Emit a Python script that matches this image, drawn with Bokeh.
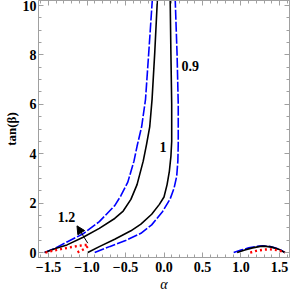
import math
from bokeh.plotting import figure
from bokeh.models import Range1d, FixedTicker, LinearAxis, Label, Arrow, NormalHead, CustomJSTickFormatter
from bokeh.embed import file_html
from bokeh.resources import INLINE

# ---- data (alpha, tan beta) ----
black_left_a = [-1.55, -1.40, -1.26, -1.05, -0.84, -0.64, -0.53, -0.43, -0.35, -0.27, -0.226, -0.185, -0.155, -0.12, -0.085]
black_left_t = [0.0, 0.17, 0.31, 0.62, 0.98, 1.38, 1.68, 2.15, 2.75, 3.7, 4.39, 5.1, 6.2, 8.1, 10.3]

blue_left_a = [-1.55, -1.40, -1.26, -1.05, -0.84, -0.64, -0.56, -0.47, -0.39, -0.35, -0.29, -0.24, -0.2, -0.15]
blue_left_t = [0.0, 0.2, 0.43, 0.76, 1.25, 1.9, 2.3, 2.85, 3.7, 4.3, 5.1, 6.2, 8.0, 10.3]

black_right_a = [-0.99, -0.84, -0.64, -0.43, -0.30, -0.16, -0.06, 0.0, 0.04, 0.07, 0.09, 0.10, 0.10, 0.09, 0.08]
black_right_t = [0.0, 0.24, 0.54, 0.88, 1.15, 1.55, 1.95, 2.25, 2.75, 3.3, 3.9, 4.5, 6.0, 8.0, 10.3]

blue_right_a = [-0.90, -0.70, -0.49, -0.30, -0.16, -0.02, 0.08, 0.13, 0.165, 0.18, 0.185, 0.185, 0.17, 0.145]
blue_right_t = [0.0, 0.25, 0.5, 0.78, 1.12, 1.65, 2.17, 2.6, 3.09, 3.7, 4.4, 6.0, 8.0, 10.3]

blue_bump_a = [0.905, 1.0, 1.1, 1.2, 1.28, 1.37, 1.45, 1.52, 1.57]
blue_bump_t = [0.0, 0.1, 0.19, 0.25, 0.27, 0.25, 0.18, 0.1, 0.0]

black_bump_a = [0.95, 1.05, 1.15, 1.25, 1.30, 1.40, 1.50, 1.57]
black_bump_t = [0.0, 0.1, 0.19, 0.25, 0.26, 0.22, 0.12, 0.0]

red_bump_a = [1.12, 1.20, 1.30, 1.38, 1.46, 1.53, 1.57]
red_bump_t = [0.0, 0.07, 0.12, 0.13, 0.10, 0.05, 0.0]

red_left_a = [-1.54, -1.45, -1.34, -1.22, -1.13, -1.05, -1.00, -0.98, -1.02, -1.07, -1.13]
red_left_t = [0.0, 0.07, 0.14, 0.21, 0.26, 0.30, 0.31, 0.27, 0.17, 0.09, 0.0]

x_ticks = [-1.5, -1.0, -0.5, 0.0, 0.5, 1.0, 1.5]
y_ticks = [0, 2, 4, 6, 8, 10]
x_minor = [round(-1.6 + 0.1 * i, 2) for i in range(33)]
y_minor = [0.5 * i for i in range(21)]

SERIF = "Liberation Serif"
GRAY = "#a0a0a0"

p = figure(width=291, height=294,
           x_range=Range1d(-1.63, 1.63), y_range=Range1d(-0.2, 10.2),
           output_backend="svg", toolbar_location=None,
           min_border_left=5, min_border_right=2,
           min_border_top=0, min_border_bottom=26)
p.grid.visible = False
p.outline_line_color = GRAY
p.background_fill_color = "white"
p.border_fill_color = "white"

def style_axis(ax, labels=True):
    ax.axis_line_color = GRAY
    ax.major_tick_line_color = GRAY
    ax.minor_tick_line_color = GRAY
    ax.major_tick_in = 5
    ax.major_tick_out = 0
    ax.minor_tick_in = 3
    ax.minor_tick_out = 0
    if labels:
        ax.major_label_text_font = SERIF
        ax.major_label_text_font_style = "bold"
        ax.major_label_text_font_size = "14px"
        ax.major_label_text_color = "black"
        ax.major_label_text_line_height = 0.9
        ax.major_label_standoff = 2
    else:
        ax.formatter = CustomJSTickFormatter(code="return '';")
        ax.major_label_standoff = 0

p.xaxis.ticker = FixedTicker(ticks=x_ticks, minor_ticks=x_minor)
p.yaxis.ticker = FixedTicker(ticks=y_ticks, minor_ticks=y_minor)
for ax in p.xaxis + p.yaxis:
    style_axis(ax)
p.xaxis.formatter = CustomJSTickFormatter(code="return tick.toFixed(1).replace('-', '\u2212');")
p.xaxis.major_label_standoff = 4

p.xaxis.axis_label = "α"
p.xaxis.axis_label_text_font = SERIF
p.xaxis.axis_label_text_font_style = "italic"
p.xaxis.axis_label_text_font_size = "14px"
p.xaxis.axis_label_text_color = "black"
p.xaxis.axis_label_text_line_height = 0.9
p.xaxis.axis_label_standoff = 2

p.yaxis.axis_label = "tan(β)"
p.yaxis.axis_label_text_font = SERIF
p.yaxis.axis_label_text_font_style = "bold"
p.yaxis.axis_label_text_font_size = "13px"
p.yaxis.axis_label_text_color = "black"
p.yaxis.axis_label_text_line_height = 0.9
p.yaxis.axis_label_standoff = 1

top = LinearAxis(ticker=FixedTicker(ticks=x_ticks, minor_ticks=x_minor))
right = LinearAxis(ticker=FixedTicker(ticks=y_ticks, minor_ticks=y_minor))
style_axis(top, labels=False)
style_axis(right, labels=False)
p.add_layout(top, "above")
p.add_layout(right, "right")

# curves
DASH = dict(line_color="#0000ff", line_width=1.6, line_dash="10 2")
p.line(blue_left_a, blue_left_t, **DASH)
p.line(blue_right_a, blue_right_t, **DASH)
p.line(blue_bump_a, blue_bump_t, **DASH)
p.line(black_left_a, black_left_t, line_color="black", line_width=1.6)
p.line(black_right_a, black_right_t, line_color="black", line_width=1.6)
p.line(black_bump_a, black_bump_t, line_color="black", line_width=1.6)
DOT = dict(line_color="#ff0000", line_width=2.4, line_dash="2 3")
p.line(red_left_a, red_left_t, **DOT)
p.line(red_bump_a, red_bump_t, **DOT)

p.add_layout(Arrow(end=NormalHead(size=8, fill_color="black", line_color="black"),
                   x_start=-0.99, y_start=0.38, x_end=-1.13, y_end=1.08,
                   line_color="black", line_width=1))

for txt, xx, yy in [("1.2", -1.265, 1.45), ("0.9", 0.34, 7.55), ("1", -0.012, 4.29)]:
    p.add_layout(Label(x=xx, y=yy, text=txt, text_font=SERIF, text_font_style="bold",
                       text_font_size="14px", text_align="center", text_baseline="middle",
                       text_color="black"))

open("out.html", "w").write(file_html(p, INLINE))
